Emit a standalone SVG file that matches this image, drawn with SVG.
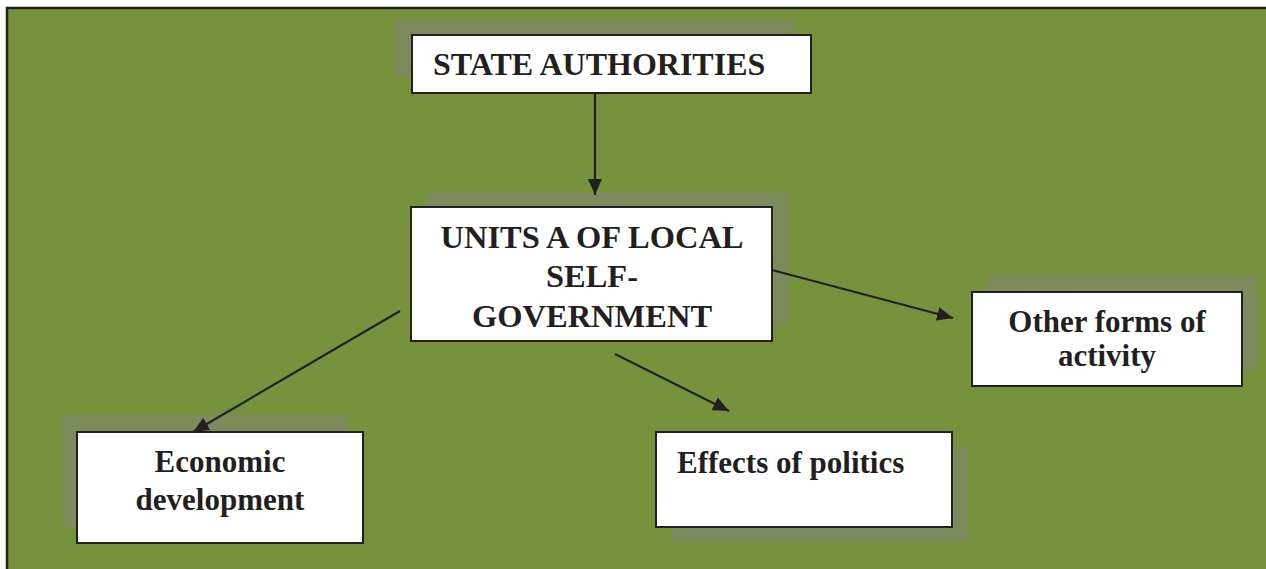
<svg xmlns="http://www.w3.org/2000/svg" width="1266" height="569" viewBox="0 0 1266 569">
<style>
.bg{fill:#76923C;stroke:#231F20;stroke-width:2.5}
.sh{fill:#7C8A5C}
.box{fill:#FFFFFF;stroke:#231F20;stroke-width:2}
.t{font-family:"Liberation Serif","Times New Roman",serif;font-weight:bold;fill:#231F20}
.c{stroke:#231F20;stroke-width:2.2;fill:none}
</style>
<defs>
<marker id="ah" viewBox="0 0 16 14" refX="16" refY="7" markerWidth="16" markerHeight="14" markerUnits="userSpaceOnUse" orient="auto">
<path d="M0,0 L16,7 L0,14 Z" fill="#231F20"/>
</marker>
</defs>
<rect x="0" y="0" width="1266" height="569" fill="#FFFFFF"/>
<rect class="bg" x="7" y="8" width="1270" height="570"/>
<g id="state">
<rect class="sh" x="395" y="20" width="400" height="57"/>
<rect class="box" x="412" y="35" width="399" height="58"/>
<text class="t" x="433" y="75" font-size="32">STATE AUTHORITIES</text>
</g>
<g id="units">
<rect class="sh" x="427" y="192" width="361" height="133"/>
<rect class="box" x="411" y="207" width="361" height="134"/>
<text class="t" x="592" y="248" font-size="32.5" text-anchor="middle">UNITS A OF LOCAL</text>
<text class="t" x="592" y="287" font-size="32.5" text-anchor="middle">SELF-</text>
<text class="t" x="592" y="327" font-size="32.5" text-anchor="middle">GOVERNMENT</text>
</g>
<g id="other">
<rect class="sh" x="988" y="275" width="269" height="95"/>
<rect class="box" x="972" y="292" width="270" height="94"/>
<text class="t" x="1107" y="332" font-size="31" text-anchor="middle">Other forms of</text>
<text class="t" x="1107" y="366" font-size="31" text-anchor="middle">activity</text>
</g>
<g id="economic">
<rect class="sh" x="62" y="415" width="285" height="112"/>
<rect class="box" x="77" y="432" width="286" height="111"/>
<text class="t" x="220" y="472" font-size="31" text-anchor="middle">Economic</text>
<text class="t" x="220" y="510" font-size="31" text-anchor="middle">development</text>
</g>
<g id="effects">
<rect class="sh" x="672" y="447" width="296" height="95"/>
<rect class="box" x="656" y="432" width="296" height="95"/>
<text class="t" x="677" y="473" font-size="31">Effects of politics</text>
</g>
<g id="connectors">
<line class="c" x1="595" y1="93" x2="595" y2="195" marker-end="url(#ah)"/>
<line class="c" x1="772" y1="270" x2="953" y2="318" marker-end="url(#ah)"/>
<line class="c" x1="400" y1="311" x2="193" y2="432" marker-end="url(#ah)"/>
<line class="c" x1="615" y1="354" x2="729" y2="411" marker-end="url(#ah)"/>
</g>
</svg>
